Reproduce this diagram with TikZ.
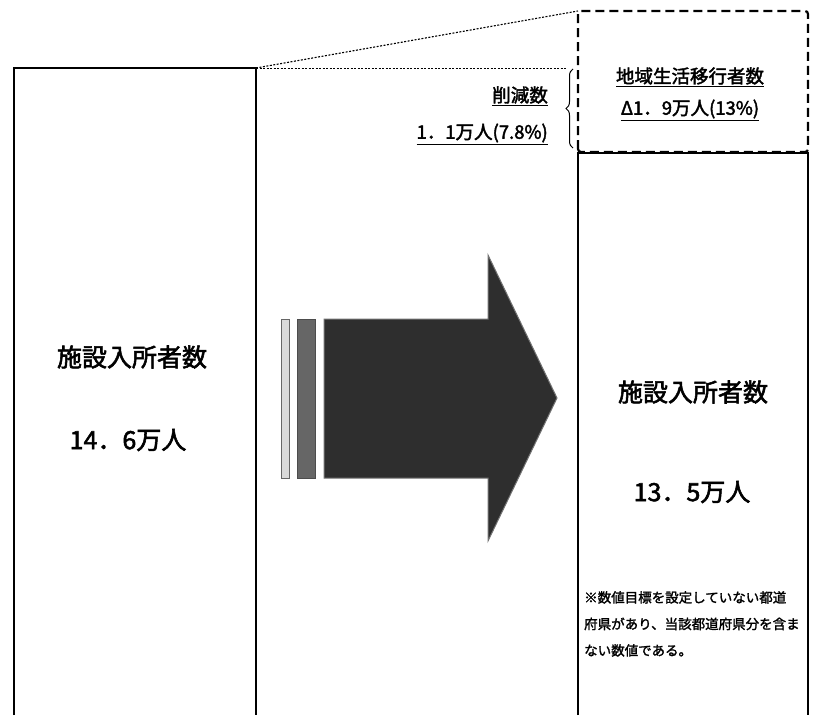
\documentclass[tikz,border=0pt]{standalone}
\usepackage{fontspec}
\setmainfont{Noto Sans CJK JP}[FakeBold=2.2]
\newfontfamily\jpnote{Noto Sans CJK JP}[FakeBold=1.6]
\usetikzlibrary{decorations.pathreplacing}
\begin{document}
\begin{tikzpicture}[x=1pt,y=-1pt,
  boxline/.style={line width=1.8pt,black},
  dotline/.style={line width=1.1pt,dash pattern=on 2pt off 1.5pt},
  dashbox/.style={line width=2.2pt,dash pattern=on 9pt off 5pt},
  big/.style={inner sep=0pt,font=\fontsize{25}{30}\selectfont},
  mid/.style={inner sep=0pt,font=\fontsize{18.5}{22}\selectfont},
  note/.style={inner sep=0pt,align=left,anchor=north west,font=\jpnote\fontsize{13.5}{26.5}\selectfont}]
\useasboundingbox (0,0) rectangle (818,715);
\fill[white] (0,0) rectangle (818,715);
% left box
\draw[boxline] (14,715) -- (14,68) -- (256,68) -- (256,715);
% right box
\draw[boxline] (578,715) -- (578,153) -- (808,153) -- (808,715);
% dashed box
\draw[dashbox,rounded corners=3pt] (578,152) -- (578,11) -- (808,11) -- (808,152) -- cycle;
% dotted guide lines
\draw[dotline] (256,68) -- (578,11);
\draw[dotline] (256,68.5) -- (566,68.5);
% brace
\draw[line width=1pt,decorate,decoration={brace,amplitude=7pt}] (573,148) -- (573,69);
% arrow
\fill[black!15] (281,319) rectangle (289,478);
\draw[black!60,line width=0.8pt] (281,319) rectangle (289,478);
\fill[black!60] (297,319) rectangle (315,478);
\draw[black!70,line width=0.8pt] (297,319) rectangle (315,478);
\fill[black!82] (324,319) -- (488,319) -- (488,255) -- (557,398) -- (488,541) -- (488,478) -- (324,478) -- cycle;
\draw[black!55,line width=1pt] (324,319) -- (488,319) -- (488,255) -- (557,398) -- (488,541) -- (488,478) -- (324,478) -- cycle;
% left texts
\node[big] (l1) at (132,357) {施設入所者数};
\node[big] (l2) at (128,440) {14．6万人};
% right texts
\node[big] (r1) at (693,392) {施設入所者数};
\node[big] (r2) at (692,492) {13．5万人};
% reduction
\node[mid,anchor=east] (red1) at (548,96) {\underline{削減数}};
\node[mid,anchor=east] (red2) at (548,134) {\underline{1．1万人(7.8\%)}};
% transition
\node[mid] (tr1) at (690,77) {\underline{地域生活移行者数}};
\node[mid] (tr2) at (690,110) {\underline{Δ1．9万人(13\%)}};
% note
\node[note] (nt) at (584,591) {※数値目標を設定していない都道\\府県があり、当該都道府県分を含ま\\ない数値である。};
\end{tikzpicture}
\end{document}
